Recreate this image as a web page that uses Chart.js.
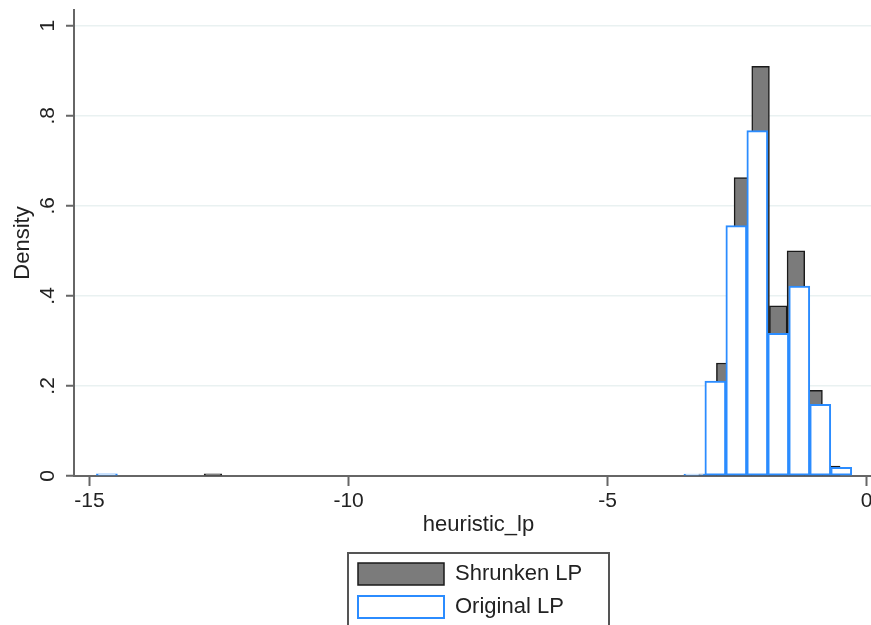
<!DOCTYPE html>
<html>
<head>
<meta charset="utf-8">
<script src="https://cdn.jsdelivr.net/npm/chart.js@4.4.1/dist/chart.umd.min.js"></script>
<style>
  html, body { margin: 0; padding: 0; background: #fff; overflow: hidden; }
  /* the Stata export is cropped on the right, so the canvas runs a bit past the window */
  #wrap { width: 883px; height: 625px; }
</style>
</head>
<body>
<div id="wrap"><canvas id="hist"></canvas></div>
<script>
// bin midpoints of heuristic_lp and their densities
const shrunkenMid = [-12.618, -3.070, -2.729, -2.388, -2.047, -1.706, -1.365, -1.024, -0.683];
const shrunkenDensity = [0.005, 0.004, 0.251, 0.663, 0.910, 0.378, 0.500, 0.190, 0.022];
const originalMid = [-14.665, -3.325, -2.920, -2.515, -2.110, -1.705, -1.300, -0.895, -0.490];
const originalDensity = [0.005, 0.004, 0.211, 0.556, 0.767, 0.317, 0.422, 0.159, 0.019];

const seriesNames = ["Shrunken LP", "Original LP"];
const xTickLabels = ["-15", "-10", "-5", "0"];
const yTickLabels = ["0", ".2", ".4", ".6", ".8", "1"];

const axisColor = "#666";
const textColor = "#222";
const xRange = { min: -15.3, max: 0.316 };

Chart.defaults.font.family = "'Liberation Sans', Arial, sans-serif";
Chart.defaults.color = textColor;

function toPoints(mids, vals) {
  return mids.map((m, i) => ({ x: m, y: vals[i] }));
}

// Stata puts the key in a framed box with one key per row
const legendBox = {
  id: "legendBox",
  beforeDraw(chart) {
    const lg = chart.legend;
    lg.left = 347;
    lg.right = 609;
    lg.top = 552;
    lg.bottom = 625;
    lg.width = lg.right - lg.left;
    lg.height = lg.bottom - lg.top;
  },
  afterDraw(chart) {
    const ctx = chart.ctx;
    ctx.save();
    ctx.strokeStyle = "#555";
    ctx.lineWidth = 2;
    ctx.strokeRect(348, 553, 261, 90);
    ctx.restore();
  }
};

// each histogram has its own bin width, so each gets its own (identical) x scale
const xBase = {
  type: "linear",
  min: xRange.min,
  max: xRange.max,
  offset: false,
  grid: { offset: false, drawOnChartArea: false, tickLength: 10, tickColor: axisColor, tickWidth: 2 },
  ticks: { stepSize: 5, includeBounds: false }
};

new Chart(document.getElementById("hist"), {
  type: "bar",
  data: {
    datasets: [
      {
        label: seriesNames[0],
        data: toPoints(shrunkenMid, shrunkenDensity),
        xAxisID: "x",
        backgroundColor: "#7b7b7b",
        borderColor: "#1a1a1a",
        borderWidth: 1.5,
        borderSkipped: false,
        grouped: false,
        barPercentage: 1,
        categoryPercentage: 1,
        order: 2
      },
      {
        label: seriesNames[1],
        data: toPoints(originalMid, originalDensity),
        xAxisID: "xOrig",
        backgroundColor: "#ffffff",
        borderColor: "#2b8cff",
        borderWidth: 2,
        borderSkipped: false,
        grouped: false,
        barPercentage: 1,
        categoryPercentage: 1,
        order: 1
      }
    ]
  },
  options: {
    responsive: true,
    maintainAspectRatio: false,
    animation: false,
    events: [],
    layout: { padding: { top: 10, bottom: 44, left: 0, right: 0 } },
    scales: {
      x: {
        ...xBase,
        border: { color: axisColor, width: 2 },
        ticks: {
          ...xBase.ticks,
          padding: 3,
          maxRotation: 0,
          font: { size: 21 },
          color: textColor,
          callback: (v, i) => xTickLabels[i]
        },
        title: { display: true, text: "heuristic_lp", font: { size: 22 }, color: textColor, padding: { top: 0, bottom: 0 } },
        afterFit(scale) {
          scale.height = 62;
          scale.paddingLeft = 0;
          scale.paddingRight = 0;
        }
      },
      xOrig: { ...xBase, display: false },
      y: {
        min: 0,
        max: 1.035,
        border: { color: axisColor, width: 2 },
        grid: { color: "rgb(233,241,241)", lineWidth: 1.5, tickLength: 8, tickColor: axisColor, tickWidth: 2 },
        ticks: {
          stepSize: 0.2,
          includeBounds: false,
          minRotation: 90,
          maxRotation: 90,
          crossAlign: "center",
          padding: 9,
          font: { size: 21 },
          color: textColor,
          callback: (v, i) => yTickLabels[i]
        },
        title: { display: true, text: "Density", font: { size: 22 }, color: textColor, padding: { top: 10, bottom: 0 } },
        afterFit(scale) {
          scale.width = 74;
          scale.paddingTop = 0;
          scale.paddingBottom = 0;
        }
      }
    },
    plugins: {
      tooltip: { enabled: false },
      legend: {
        position: "bottom",
        align: "start",
        labels: {
          boxWidth: 86,
          boxHeight: 22,
          padding: 11,
          font: { size: 22 },
          color: textColor,
          sort: (a, b) => a.datasetIndex - b.datasetIndex
        }
      }
    }
  },
  plugins: [legendBox]
});
</script>
</body>
</html>
